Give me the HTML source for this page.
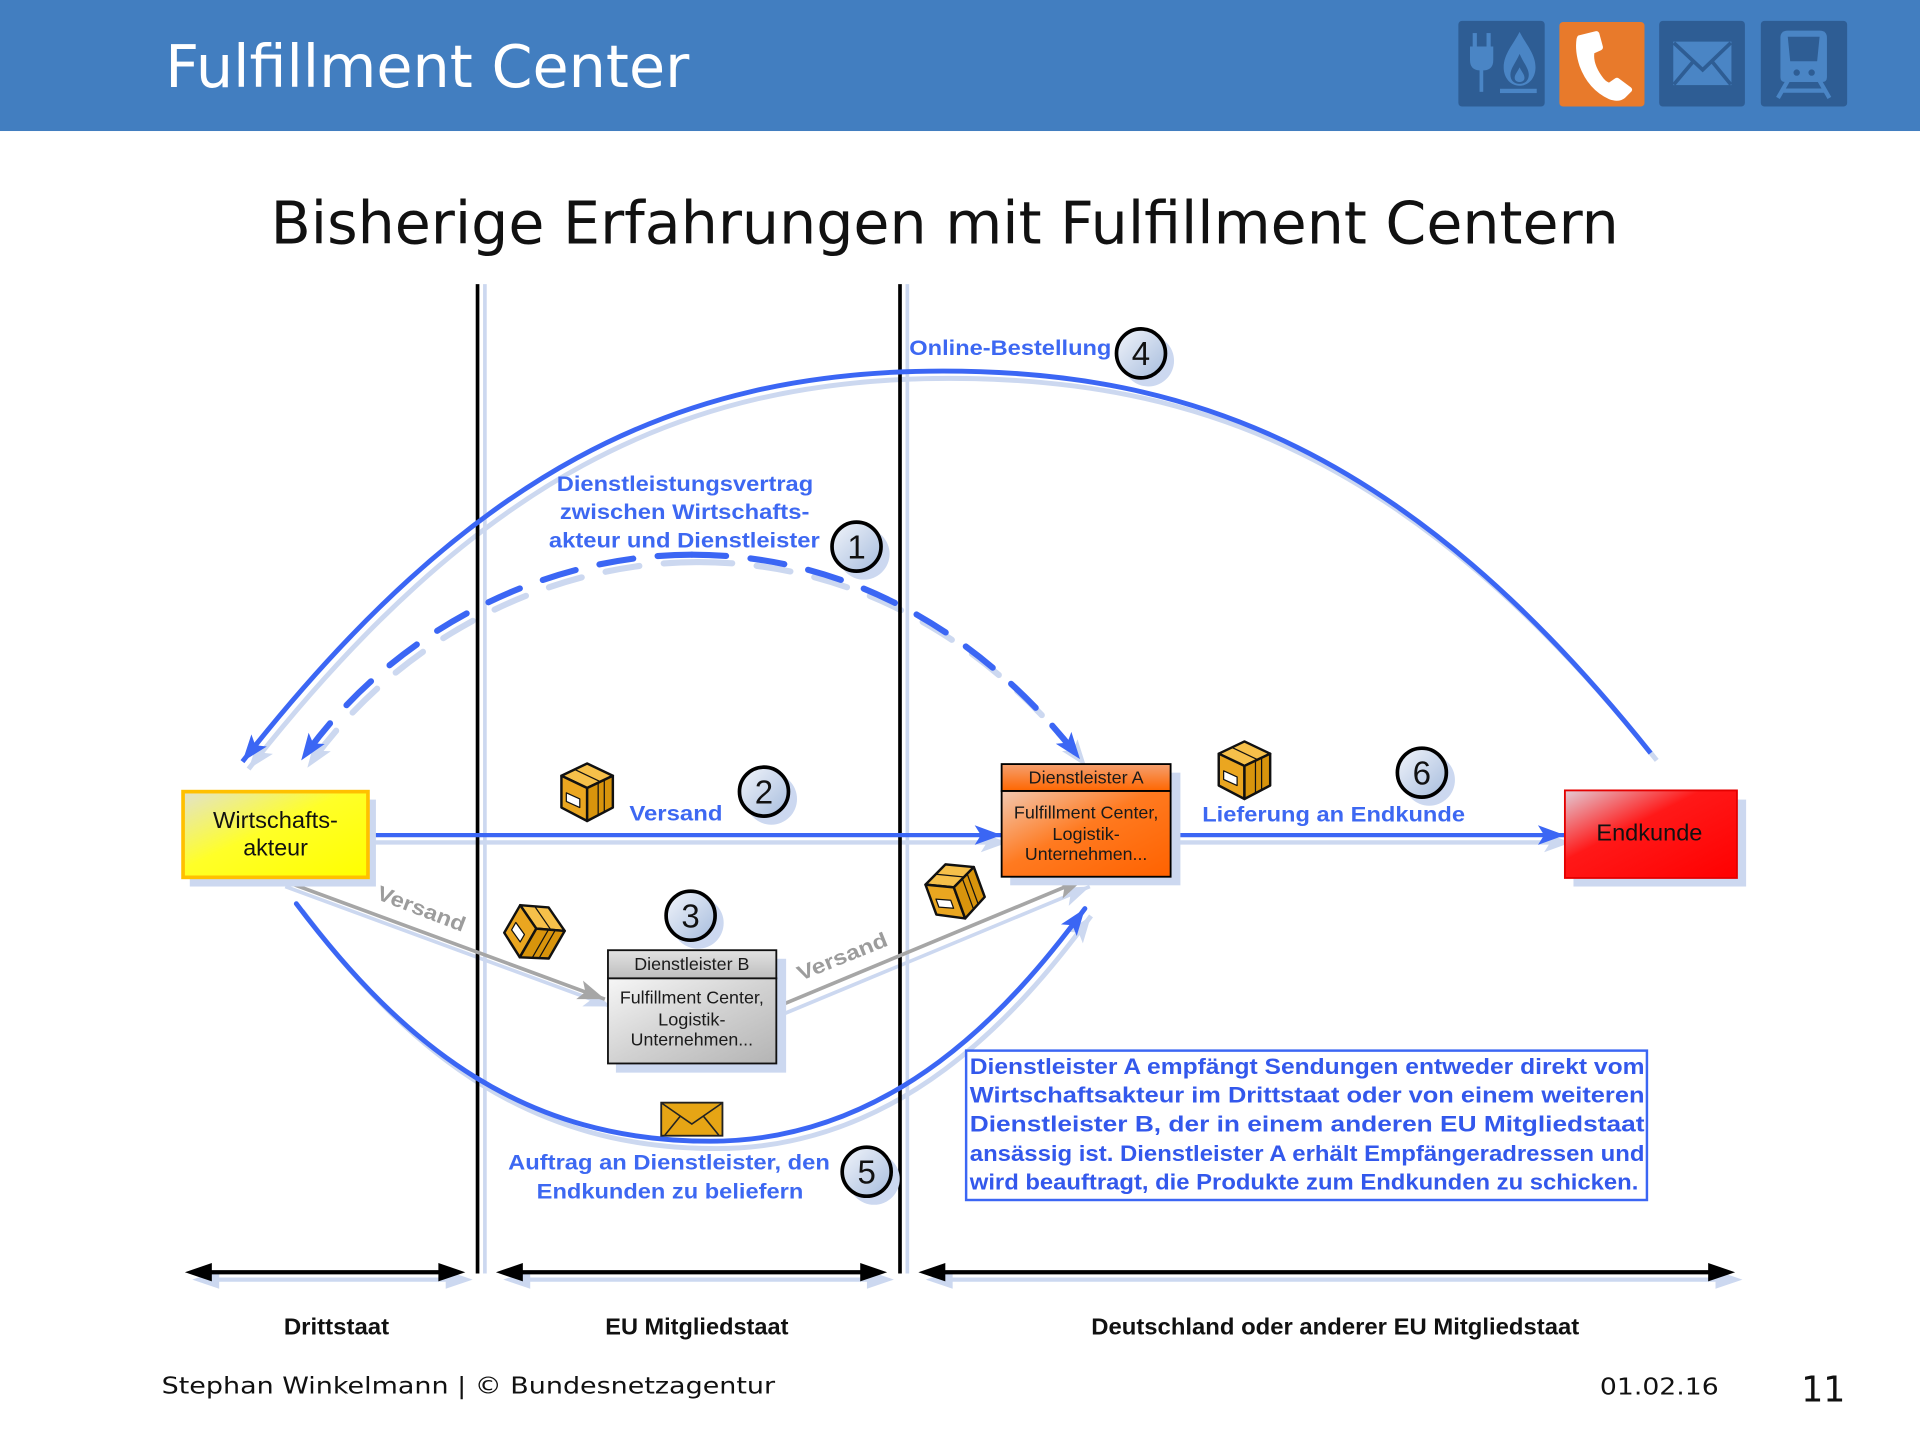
<!DOCTYPE html>
<html><head><meta charset="utf-8">
<style>
html,body{margin:0;padding:0;background:#fff;width:1920px;height:1440px;overflow:hidden}
svg{display:block}
.v{font-family:"DejaVu Sans","Liberation Sans",sans-serif}
.a{font-family:"Liberation Sans",Arial,sans-serif}
.b{font-family:"Liberation Sans",Arial,sans-serif;font-weight:bold}
</style></head><body>
<svg width="1920" height="1440" viewBox="0 0 1568 1176" xmlns="http://www.w3.org/2000/svg">
<defs>
  <marker id="mb" markerUnits="userSpaceOnUse" markerWidth="40" markerHeight="40" viewBox="-30 -20 40 40" refX="0" refY="0" orient="auto" overflow="visible">
    <path d="M0,0 L-22,-8 L-17,0 L-22,8 Z" fill="#3B66F4"/></marker>
  <marker id="ms" markerUnits="userSpaceOnUse" markerWidth="40" markerHeight="40" viewBox="-30 -20 40 40" refX="0" refY="0" orient="auto" overflow="visible">
    <path d="M0,0 L-22,-8 L-17,0 L-22,8 Z" fill="#CCD8F0"/></marker>
  <marker id="mg" markerUnits="userSpaceOnUse" markerWidth="40" markerHeight="40" viewBox="-30 -20 40 40" refX="0" refY="0" orient="auto" overflow="visible">
    <path d="M0,0 L-22,-8 L-17,0 L-22,8 Z" fill="#A6A6A6"/></marker>
  <linearGradient id="gy" x1="0" y1="0" x2="1" y2="1">
    <stop offset="0" stop-color="#E2E2CE"/><stop offset="0.45" stop-color="#FFFF28"/><stop offset="1" stop-color="#FFFF00"/></linearGradient>
  <linearGradient id="gr" x1="0" y1="0" x2="1" y2="1">
    <stop offset="0" stop-color="#E2CCD6"/><stop offset="0.4" stop-color="#FF1818"/><stop offset="1" stop-color="#FF0000"/></linearGradient>
  <linearGradient id="goh" x1="0" y1="0" x2="0" y2="1">
    <stop offset="0" stop-color="#F4A070"/><stop offset="1" stop-color="#FF6600"/></linearGradient>
  <linearGradient id="gob" x1="0" y1="0" x2="1" y2="1">
    <stop offset="0" stop-color="#F2C8B0"/><stop offset="0.45" stop-color="#FF7A20"/><stop offset="1" stop-color="#FF6200"/></linearGradient>
  <linearGradient id="gbh" x1="0" y1="0" x2="0" y2="1">
    <stop offset="0" stop-color="#E2E2E2"/><stop offset="1" stop-color="#BEBEBE"/></linearGradient>
  <linearGradient id="gbb" x1="0" y1="0" x2="1" y2="1">
    <stop offset="0" stop-color="#F6F6F6"/><stop offset="0.5" stop-color="#D2D2D2"/><stop offset="1" stop-color="#B4B4B4"/></linearGradient>
  <linearGradient id="gc" x1="0" y1="0" x2="1" y2="1">
    <stop offset="0" stop-color="#F2F5FB"/><stop offset="1" stop-color="#A6BCDD"/></linearGradient>
  <g id="cube" stroke="#111" stroke-width="2" stroke-linejoin="round">
    <path d="M-21,-13 L0,-23 L21,-13 L0,-3 Z" fill="#F6C04A"/>
    <path d="M-21,-13 L0,-3 L0,24 L-21,13 Z" fill="#EAA620"/>
    <path d="M0,-3 L21,-13 L21,13 L0,24 Z" fill="#D8940C"/>
    <path d="M-10,-18 L11,-8 M9,-7 L9,20 M14,-10 L14,17" fill="none" stroke-width="1"/>
    <path d="M-17,1 L-6,6 L-6,13 L-17,8 Z" fill="#fff" stroke-width="1"/>
  </g>
</defs>

<rect width="1568" height="1176" fill="#fff"/>

<!-- header -->
<rect x="0" y="0" width="1568" height="107" fill="#427EC0"/>
<text x="135" y="71" class="v" font-size="48" fill="#fff">Fulfillment Center</text>

<!-- icon 1 -->
<rect x="1191" y="17" width="70.5" height="70" rx="3" fill="#2E5D94"/>
<g fill="#4A85C5">
  <rect x="1202.7" y="27" width="3.4" height="12"/>
  <rect x="1214" y="27" width="3.4" height="12"/>
  <path d="M1200.5,38 H1219.5 V49 Q1219.5,57 1212,57.5 H1208 Q1200.5,57 1200.5,49 Z"/>
  <rect x="1208.3" y="56" width="3" height="19"/>
  <path d="M1241,26 C1246,36 1254,44 1254,55 C1254,64 1248,70 1241,70 C1234,70 1228,64 1228,55 C1228,44 1236,36 1241,26 Z"/>
  <rect x="1225" y="72.5" width="30" height="3.5"/>
</g>
<path d="M1241,44 C1244,51 1248.5,56 1248.5,61 C1248.5,66 1245,68.5 1241,68.5 C1237,68.5 1233.5,66 1233.5,61 C1233.5,56 1238,51 1241,44 Z" fill="#2E5D94"/>
<path d="M1241,55 C1243,59 1245,61 1245,63.5 C1245,66 1243,67 1241,67 C1239,67 1237,66 1237,63.5 C1237,61 1239,59 1241,55 Z" fill="#4A85C5"/>
<!-- icon 2 -->
<rect x="1273.5" y="18" width="69.5" height="69" rx="3" fill="#E87A2B"/>
<path d="M1289,29 L1303,25.5 Q1305,25 1306,27 L1309,38 Q1309.5,40 1307.5,41 L1302,43.5 Q1301,52 1308,62 Q1311,66.5 1314,67.5 L1319,64 Q1320.5,63 1322,64 L1332,71.5 Q1333.5,73 1332.5,74.5 L1327,80 Q1322,84 1314,81 Q1297,73 1290,54 Q1286,42 1287.5,32 Q1288,29.5 1289,29 Z" fill="#fff"/>
<!-- icon 3 -->
<rect x="1355" y="17" width="70" height="70" rx="3" fill="#2E5D94"/>
<rect x="1366.5" y="34" width="47.5" height="35.5" fill="#4A85C5"/>
<path d="M1367,35 L1390.5,57 L1413.5,35 M1367,69 L1383,50 M1413.5,69 L1398,50" fill="none" stroke="#2E5D94" stroke-width="3"/>
<!-- icon 4 -->
<rect x="1438" y="17" width="70.5" height="70" rx="3" fill="#2E5D94"/>
<path d="M1454,31 Q1454,25 1460,25 H1486 Q1492,25 1492,31 V63 Q1492,67 1488,67 H1458 Q1454,67 1454,63 Z" fill="#4A85C5"/>
<path d="M1460,30 H1486 L1484,50 H1462 Z" fill="#2E5D94"/>
<circle cx="1467.3" cy="59.3" r="2.6" fill="#2E5D94"/>
<circle cx="1479.5" cy="59.3" r="2.6" fill="#2E5D94"/>
<path d="M1460,66 L1452,80 M1486,66 L1494,80 M1456,74 H1490" fill="none" stroke="#4A85C5" stroke-width="3.5"/>

<!-- subtitle -->
<text x="221" y="199" class="v" font-size="48" fill="#111" textLength="1101" lengthAdjust="spacingAndGlyphs">Bisherige Erfahrungen mit Fulfillment Centern</text>

<!-- vertical separators -->
<line x1="396" y1="232" x2="396" y2="1040" stroke="#CCD8F0" stroke-width="3"/>
<line x1="741" y1="232" x2="741" y2="1040" stroke="#CCD8F0" stroke-width="3"/>

<!-- shadows of connectors -->
<g transform="translate(5,6)" fill="none" stroke="#CCD8F0">
  <path d="M1348,615 C1148.6,364.8 970,303 770,303 C550,303 383.4,386.2 198,622" stroke-width="4" marker-end="url(#ms)"/>
  <path d="M565,453 C445,453 320.5,514.5 246,621" stroke-width="5" stroke-dasharray="28 20" stroke-linecap="round" marker-end="url(#ms)"/>
  <path d="M565,453 C715,453 821.2,540.7 882,620" stroke-width="5" stroke-dasharray="28 20" stroke-linecap="round" marker-end="url(#ms)"/>
  <path d="M242,738 C332.3,857.9 430,932 580,932 C730,932 826.5,822.4 886,742" stroke-width="4" marker-end="url(#ms)"/>
  <path d="M300,682 L818,682" stroke-width="3.5" marker-end="url(#ms)"/>
  <path d="M956,682 L1278,682" stroke-width="3.5" marker-end="url(#ms)"/>
  <path d="M228,718 L494,816" stroke-width="3" marker-end="url(#ms)"/>
  <path d="M635,822 L885,718" stroke-width="3" marker-end="url(#ms)"/>
</g>

<line x1="390" y1="232" x2="390" y2="1040" stroke="#000" stroke-width="3"/>
<line x1="735" y1="232" x2="735" y2="1040" stroke="#000" stroke-width="3"/>

<!-- connectors -->
<g fill="none" stroke="#3B66F4">
  <path d="M1348,615 C1148.6,364.8 970,303 770,303 C550,303 383.4,386.2 198,622" stroke-width="4" marker-end="url(#mb)"/>
  <path d="M565,453 C445,453 320.5,514.5 246,621" stroke-width="5" stroke-dasharray="28 20" stroke-linecap="round" marker-end="url(#mb)"/>
  <path d="M565,453 C715,453 821.2,540.7 882,620" stroke-width="5" stroke-dasharray="28 20" stroke-linecap="round" marker-end="url(#mb)"/>
  <path d="M242,738 C332.3,857.9 430,932 580,932 C730,932 826.5,822.4 886,742" stroke-width="4" stroke-linecap="round" marker-end="url(#mb)"/>
  <path d="M300,682 L818,682" stroke-width="3.5" marker-end="url(#mb)"/>
  <path d="M956,682 L1278,682" stroke-width="3.5" marker-end="url(#mb)"/>
</g>
<g fill="none" stroke="#A6A6A6" stroke-width="3">
  <path d="M228,718 L494,816" marker-end="url(#mg)"/>
  <path d="M635,822 L885,718" marker-end="url(#mg)"/>
</g>

<!-- nodes -->
<rect x="155" y="653" width="152" height="71" fill="#CCD8F0"/>
<rect x="149.5" y="646.5" width="151" height="70" fill="url(#gy)" stroke="#FFC000" stroke-width="3"/>
<text x="225" y="676" class="a" font-size="19" fill="#111" text-anchor="middle" textLength="102" lengthAdjust="spacingAndGlyphs">Wirtschafts-</text>
<text x="225" y="698.5" class="a" font-size="19" fill="#111" text-anchor="middle">akteur</text>

<rect x="825" y="631" width="139" height="92" fill="#CCD8F0"/>
<rect x="818" y="624" width="138" height="22" fill="url(#goh)" stroke="#000" stroke-width="1.5"/>
<rect x="818" y="646" width="138" height="70" fill="url(#gob)" stroke="#000" stroke-width="1.5"/>
<g class="a" font-size="14" fill="#1a1a1a" text-anchor="middle">
  <text x="887" y="640" textLength="94" lengthAdjust="spacingAndGlyphs">Dienstleister A</text>
  <text x="887" y="668.3" textLength="118" lengthAdjust="spacingAndGlyphs">Fulfillment Center,</text>
  <text x="887" y="686" textLength="55" lengthAdjust="spacingAndGlyphs">Logistik-</text>
  <text x="887" y="702.5" textLength="100" lengthAdjust="spacingAndGlyphs">Unternehmen...</text>
</g>

<rect x="503" y="783" width="139" height="93" fill="#CCD8F0"/>
<rect x="496.5" y="776" width="137.5" height="23" fill="url(#gbh)" stroke="#111" stroke-width="1.5"/>
<rect x="496.5" y="799" width="137.5" height="69.5" fill="url(#gbb)" stroke="#111" stroke-width="1.5"/>
<g class="a" font-size="14" fill="#1a1a1a" text-anchor="middle">
  <text x="565" y="792" textLength="94" lengthAdjust="spacingAndGlyphs">Dienstleister B</text>
  <text x="565" y="819.5" textLength="117.6" lengthAdjust="spacingAndGlyphs">Fulfillment Center,</text>
  <text x="565" y="837.6" textLength="55" lengthAdjust="spacingAndGlyphs">Logistik-</text>
  <text x="565" y="854" textLength="100" lengthAdjust="spacingAndGlyphs">Unternehmen...</text>
</g>

<rect x="1285" y="653" width="141" height="71" fill="#CCD8F0"/>
<rect x="1278" y="645.5" width="140.5" height="71.5" fill="url(#gr)" stroke="#E40000" stroke-width="1.5"/>
<text x="1303.7" y="686.5" class="a" font-size="19" fill="#111" textLength="86.6" lengthAdjust="spacingAndGlyphs">Endkunde</text>

<!-- packages -->
<use href="#cube" transform="translate(479.5,646.5)"/>
<use href="#cube" transform="translate(436.5,761) rotate(30)"/>
<use href="#cube" transform="translate(780,727.5) rotate(-20)"/>
<use href="#cube" transform="translate(1016.3,628.5)"/>

<!-- envelope -->
<rect x="540" y="900.5" width="50" height="27" fill="#E6A515" stroke="#222" stroke-width="1.5"/>
<path d="M540.5,901 L565,918 L589.5,901 M543,927 L556,911 M587,927 L574,911" fill="none" stroke="#222" stroke-width="1.3"/>

<!-- numbered circles -->
<g>
  <circle cx="705.5" cy="452.4" r="21" fill="#CCD8F0"/>
  <circle cx="699.5" cy="446.4" r="20" fill="url(#gc)" stroke="#000" stroke-width="3"/>
  <circle cx="629.9" cy="652.5" r="21" fill="#CCD8F0"/>
  <circle cx="623.9" cy="646.5" r="20" fill="url(#gc)" stroke="#000" stroke-width="3"/>
  <circle cx="570" cy="753.8" r="21" fill="#CCD8F0"/>
  <circle cx="564" cy="747.8" r="20" fill="url(#gc)" stroke="#000" stroke-width="3"/>
  <circle cx="937.8" cy="294.6" r="21" fill="#CCD8F0"/>
  <circle cx="931.8" cy="288.6" r="20" fill="url(#gc)" stroke="#000" stroke-width="3"/>
  <circle cx="713.8" cy="962.9" r="21" fill="#CCD8F0"/>
  <circle cx="707.8" cy="956.9" r="20" fill="url(#gc)" stroke="#000" stroke-width="3"/>
  <circle cx="1167.2" cy="637" r="21" fill="#CCD8F0"/>
  <circle cx="1161.2" cy="631" r="20" fill="url(#gc)" stroke="#000" stroke-width="3"/>
</g>
<g class="a" font-size="27" fill="#111" text-anchor="middle">
  <text x="699.5" y="456">1</text>
  <text x="623.9" y="656">2</text>
  <text x="564" y="757.5">3</text>
  <text x="931.8" y="298.2">4</text>
  <text x="707.8" y="966.5">5</text>
  <text x="1161.2" y="640.6">6</text>
</g>

<!-- blue labels -->
<g class="b" font-size="17.5" fill="#3D68F2">
  <text x="742.6" y="290" textLength="165" lengthAdjust="spacingAndGlyphs">Online-Bestellung</text>
  <text x="454.7" y="401" textLength="209.4" lengthAdjust="spacingAndGlyphs">Dienstleistungsvertrag</text>
  <text x="457.2" y="424" textLength="203.8" lengthAdjust="spacingAndGlyphs">zwischen Wirtschafts-</text>
  <text x="448.3" y="447.2" textLength="221.2" lengthAdjust="spacingAndGlyphs">akteur und Dienstleister</text>
  <text x="514" y="670" textLength="76" lengthAdjust="spacingAndGlyphs">Versand</text>
  <text x="981.8" y="671" textLength="214.6" lengthAdjust="spacingAndGlyphs">Lieferung an Endkunde</text>
  <text x="415" y="955" textLength="262.7" lengthAdjust="spacingAndGlyphs">Auftrag an Dienstleister, den</text>
  <text x="438.3" y="978.6" textLength="217.7" lengthAdjust="spacingAndGlyphs">Endkunden zu beliefern</text>
</g>

<!-- gray rotated labels -->
<g class="b" font-size="17" fill="#9C9C9C" text-anchor="middle">
  <text transform="translate(342,747.5) rotate(21)" textLength="76" lengthAdjust="spacingAndGlyphs">Versand</text>
  <text transform="translate(690,786.5) rotate(-22)" textLength="78" lengthAdjust="spacingAndGlyphs">Versand</text>
</g>

<!-- info box -->
<rect x="789" y="858" width="556" height="122" fill="#fff" stroke="#3B66F4" stroke-width="2"/>
<g class="b" font-size="18" fill="#3358EC">
  <text x="792" y="877" textLength="551" lengthAdjust="spacingAndGlyphs">Dienstleister A empfängt Sendungen entweder direkt vom</text>
  <text x="792" y="900.5" textLength="551" lengthAdjust="spacingAndGlyphs">Wirtschaftsakteur im Drittstaat oder von einem weiteren</text>
  <text x="792" y="924" textLength="551" lengthAdjust="spacingAndGlyphs">Dienstleister B, der in einem anderen EU Mitgliedstaat</text>
  <text x="792" y="948" textLength="551" lengthAdjust="spacingAndGlyphs">ansässig ist. Dienstleister A erhält Empfängeradressen und</text>
  <text x="792" y="971.5" textLength="546" lengthAdjust="spacingAndGlyphs">wird beauftragt, die Produkte zum Endkunden zu schicken.</text>
</g>

<!-- bottom double arrows -->
<g fill="#CCD8F0" stroke="#CCD8F0">
  <line x1="165" y1="1045" x2="372" y2="1045" stroke-width="3.5"/>
  <polygon points="157,1045 179,1037.5 179,1052.5" stroke="none"/>
  <polygon points="386,1045 364,1037.5 364,1052.5" stroke="none"/>
  <line x1="418" y1="1045" x2="716" y2="1045" stroke-width="3.5"/>
  <polygon points="411,1045 433,1037.5 433,1052.5" stroke="none"/>
  <polygon points="730,1045 708,1037.5 708,1052.5" stroke="none"/>
  <line x1="764" y1="1045" x2="1408" y2="1045" stroke-width="3.5"/>
  <polygon points="756,1045 778,1037.5 778,1052.5" stroke="none"/>
  <polygon points="1423,1045 1401,1037.5 1401,1052.5" stroke="none"/>
</g>
<g fill="#000" stroke="#000">
  <line x1="160" y1="1039" x2="370" y2="1039" stroke-width="3.5"/>
  <polygon points="151,1039 173,1031.5 173,1046.5" stroke="none"/>
  <polygon points="380,1039 358,1031.5 358,1046.5" stroke="none"/>
  <line x1="413" y1="1039" x2="714" y2="1039" stroke-width="3.5"/>
  <polygon points="405,1039 427,1031.5 427,1046.5" stroke="none"/>
  <polygon points="724.5,1039 702.5,1031.5 702.5,1046.5" stroke="none"/>
  <line x1="758" y1="1039" x2="1406" y2="1039" stroke-width="3.5"/>
  <polygon points="750,1039 772,1031.5 772,1046.5" stroke="none"/>
  <polygon points="1417,1039 1395,1031.5 1395,1046.5" stroke="none"/>
</g>

<g class="b" font-size="18.5" fill="#111">
  <text x="231.8" y="1090" textLength="86" lengthAdjust="spacingAndGlyphs">Drittstaat</text>
  <text x="494.3" y="1090" textLength="149.6" lengthAdjust="spacingAndGlyphs">EU Mitgliedstaat</text>
  <text x="891.2" y="1090" textLength="398.5" lengthAdjust="spacingAndGlyphs">Deutschland oder anderer EU Mitgliedstaat</text>
</g>

<!-- footer -->
<g class="v" fill="#111">
  <text x="132" y="1138" font-size="19" textLength="501" lengthAdjust="spacingAndGlyphs">Stephan Winkelmann | © Bundesnetzagentur</text>
  <text x="1306.6" y="1139" font-size="19" textLength="97" lengthAdjust="spacingAndGlyphs">01.02.16</text>
  <text x="1471" y="1144.7" font-size="29" textLength="36" lengthAdjust="spacingAndGlyphs">11</text>
</g>
</svg>
</body></html>
